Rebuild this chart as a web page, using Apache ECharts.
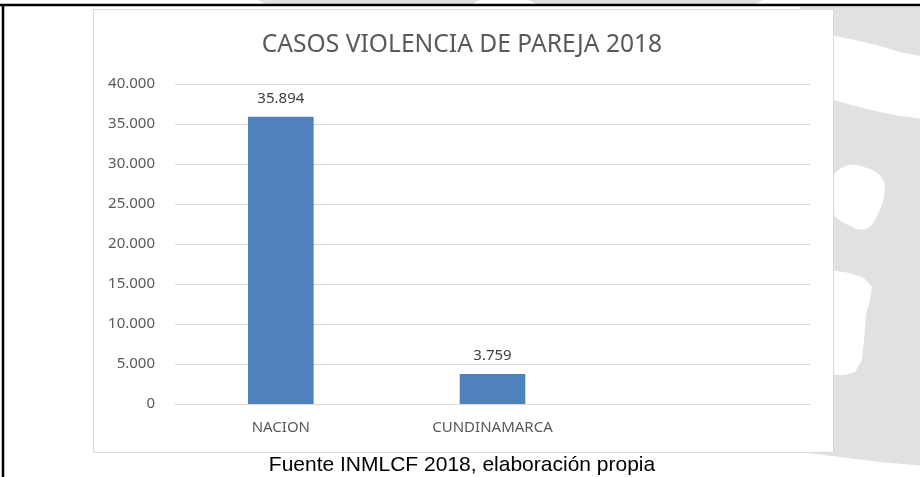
<!DOCTYPE html>
<html>
<head>
<meta charset="utf-8">
<script src="https://cdn.jsdelivr.net/npm/echarts@6/dist/echarts.min.js"></script>
<style>
  html, body { margin: 0; padding: 0; background: #fff; }
</style>
</head>
<body>
<div id="chart" style="width:920px;height:477px;"></div>
<script>
// datos del grafico
var categorias = ['NACION', 'CUNDINAMARCA', '']
var casos = [35894, 3759, null]
var yTicks = [0, 5000, 10000, 15000, 20000, 25000, 30000, 35000, 40000]

function fmtMiles (v) {
  return String(v).replace(/\B(?=(\d{3})+(?!\d))/g, '.')
}

var gris = '#e1e1e1'
var chart = echarts.init(document.getElementById('chart'))

var option = {
  backgroundColor: '#fff',
  animation: false,
  title: {
    text: 'CASOS VIOLENCIA DE PAREJA 2018',
    left: 457,
    top: 27,
    textAlign: 'center',
    textStyle: { fontFamily: 'Noto Sans', fontSize: 24.6, fontWeight: 'normal', color: '#595959' }
  },
  grid: { left: 175, right: 110, top: 84, bottom: 73 },
  xAxis: {
    type: 'category',
    data: categorias,
    axisLine: { lineStyle: { color: '#d9d9d9' } },
    axisTick: { show: false },
    axisLabel: { color: '#595959', fontFamily: 'Noto Sans', fontSize: 15, margin: 16 }
  },
  yAxis: {
    type: 'value',
    min: yTicks[0],
    max: yTicks[yTicks.length - 1],
    interval: yTicks[1] - yTicks[0],
    axisLine: { show: false },
    axisTick: { show: false },
    splitLine: { lineStyle: { color: '#d9d9d9' } },
    axisLabel: {
      color: '#595959', fontFamily: 'Noto Sans', fontSize: 15, margin: 20,
      formatter: fmtMiles
    }
  },
  series: [{
    type: 'bar',
    data: casos,
    barWidth: '31%',
    itemStyle: { color: '#4f81bd' },
    label: {
      show: true,
      position: 'top',
      distance: 11,
      color: '#404040',
      fontFamily: 'Noto Sans',
      fontSize: 15,
      formatter: function (p) { return fmtMiles(p.value) }
    }
  }],
  graphic: [
    // marca de agua gris del fondo
    { type: 'polygon', z: -20, shape: { points: [[800, 7], [925, 7], [925, 466], [880, 462], [840, 457], [800, 452]] }, style: { fill: gris } },
    { type: 'polygon', z: -20, shape: { points: [[258, 0], [480, 0], [470, 5], [268, 5]] }, style: { fill: gris } },
    { type: 'polygon', z: -20, shape: { points: [[528, 0], [763, 0], [753, 5], [540, 5]] }, style: { fill: gris } },
    { type: 'polygon', z: -19, shape: { points: [[830, 35], [855, 40], [880, 46], [900, 52], [925, 57], [925, 119], [900, 116], [875, 111], [855, 106], [830, 99]] }, style: { fill: '#fff' } },
    { type: 'polygon', z: -19, shape: { smooth: 0.4, points: [[833, 178], [846, 166], [864, 167], [882, 178], [884, 196], [877, 216], [866, 229], [850, 226], [833, 212]] }, style: { fill: '#fff' } },
    { type: 'polygon', z: -19, shape: { points: [[830, 270], [850, 273], [864, 278], [872, 287], [870, 300], [866, 315], [864, 340], [862, 360], [855, 372], [845, 375], [830, 375]] }, style: { fill: '#fff' } },
    // caja del grafico
    { type: 'rect', z: -10, shape: { x: 93.5, y: 9.5, width: 740, height: 443 }, style: { fill: '#fff', stroke: '#d9d9d9', lineWidth: 1 } },
    // bordes negros de la pagina
    { type: 'line', z: 10, shape: { x1: 0, y1: 5, x2: 920, y2: 5 }, style: { stroke: '#000', lineWidth: 2.5 } },
    { type: 'line', z: 10, shape: { x1: 3, y1: 4, x2: 3, y2: 477 }, style: { stroke: '#000', lineWidth: 2.5 } },
    // fuente
    {
      type: 'text', z: 10, x: 462, y: 465,
      style: {
        text: 'Fuente INMLCF 2018, elaboración propia',
        fill: '#000', fontFamily: 'Liberation Sans', fontSize: 21,
        textAlign: 'center', textVerticalAlign: 'middle'
      }
    }
  ]
}
chart.setOption(option)
</script>
</body>
</html>
